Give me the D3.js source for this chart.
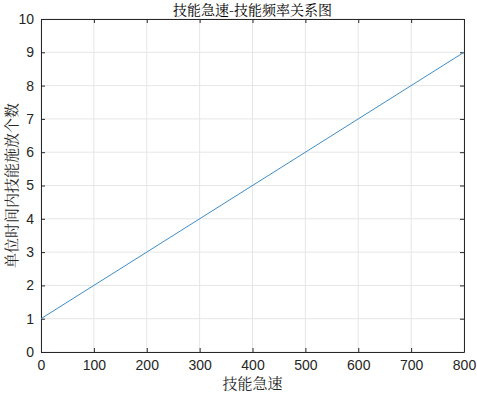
<!DOCTYPE html>
<html><head><meta charset="utf-8">
<script src="https://cdn.jsdelivr.net/npm/d3@7"></script>
<style>body{margin:0;background:#fff}svg{display:block}</style>
</head><body>
<script>
const xValues = [0, 800];
const yValues = [1, 9];
const xTicks = [0,100,200,300,400,500,600,700,800];
const yTicks = [0,1,2,3,4,5,6,7,8,9,10];
const titleText = "技能急速-技能频率关系图";
const xLabel = "技能急速";
const yLabel = "单位时间内技能施放个数";

const W=477,H=394, m={l:41,r:13,t:19,b:42};
const svg=d3.select("body").append("svg").attr("width",W).attr("height",H);
const x=d3.scaleLinear().domain([0,800]).range([m.l,W-m.r]);
const y=d3.scaleLinear().domain([0,10]).range([H-m.b,m.t]);
const g=svg.append("g");
g.selectAll(".gx").data(xTicks).join("line").attr("x1",d=>x(d)).attr("x2",d=>x(d)).attr("y1",y(0)).attr("y2",y(10)).attr("stroke","#e6e6e6");
g.selectAll(".gy").data(yTicks).join("line").attr("y1",d=>y(d)).attr("y2",d=>y(d)).attr("x1",x(0)).attr("x2",x(800)).attr("stroke","#e6e6e6");
const font="Liberation Sans, Arial, sans-serif";
const ax=svg.append("g").attr("transform",`translate(0,${y(0)})`).call(d3.axisBottom(x).tickValues(xTicks).tickSizeInner(-4).tickSizeOuter(0).tickPadding(8));
const ay=svg.append("g").attr("transform",`translate(${x(0)},0)`).call(d3.axisLeft(y).tickValues(yTicks).tickSizeInner(-4).tickSizeOuter(0).tickPadding(7));
const axT=svg.append("g").attr("transform",`translate(0,${y(10)})`).call(d3.axisTop(x).tickValues(xTicks).tickSizeInner(-4).tickSizeOuter(0).tickFormat(""));
const ayR=svg.append("g").attr("transform",`translate(${x(800)},0)`).call(d3.axisRight(y).tickValues(yTicks).tickSizeInner(-4).tickSizeOuter(0).tickFormat(""));
[ax,ay,axT,ayR].forEach(a=>{a.selectAll("path,line").attr("stroke","#262626");a.selectAll("text").attr("fill","#262626").style("font-family",font).style("font-size","14px");a.select(".domain").attr("stroke","#262626");});
svg.append("path").datum(xValues.map((v,i)=>[v,yValues[i]])).attr("fill","none").attr("stroke","#3d8ec9").attr("stroke-width",1).attr("d",d3.line().x(d=>x(d[0])).y(d=>y(d[1])));
const cjk="'Noto Serif CJK SC','Noto Sans CJK SC', sans-serif";
svg.append("text").attr("x",(x(0)+x(800))/2).attr("y",15).attr("text-anchor","middle").style("font-family",cjk).style("font-size","14px").attr("fill","#000").text(titleText);
svg.append("text").attr("x",(x(0)+x(800))/2).attr("y",389).attr("text-anchor","middle").style("font-family",cjk).style("font-size","15px").attr("fill","#262626").text(xLabel);
svg.append("text").attr("transform",`translate(17,${(y(0)+y(10))/2}) rotate(-90)`).attr("text-anchor","middle").style("font-family",cjk).style("font-size","15px").attr("fill","#262626").text(yLabel);
</script>
</body></html>
